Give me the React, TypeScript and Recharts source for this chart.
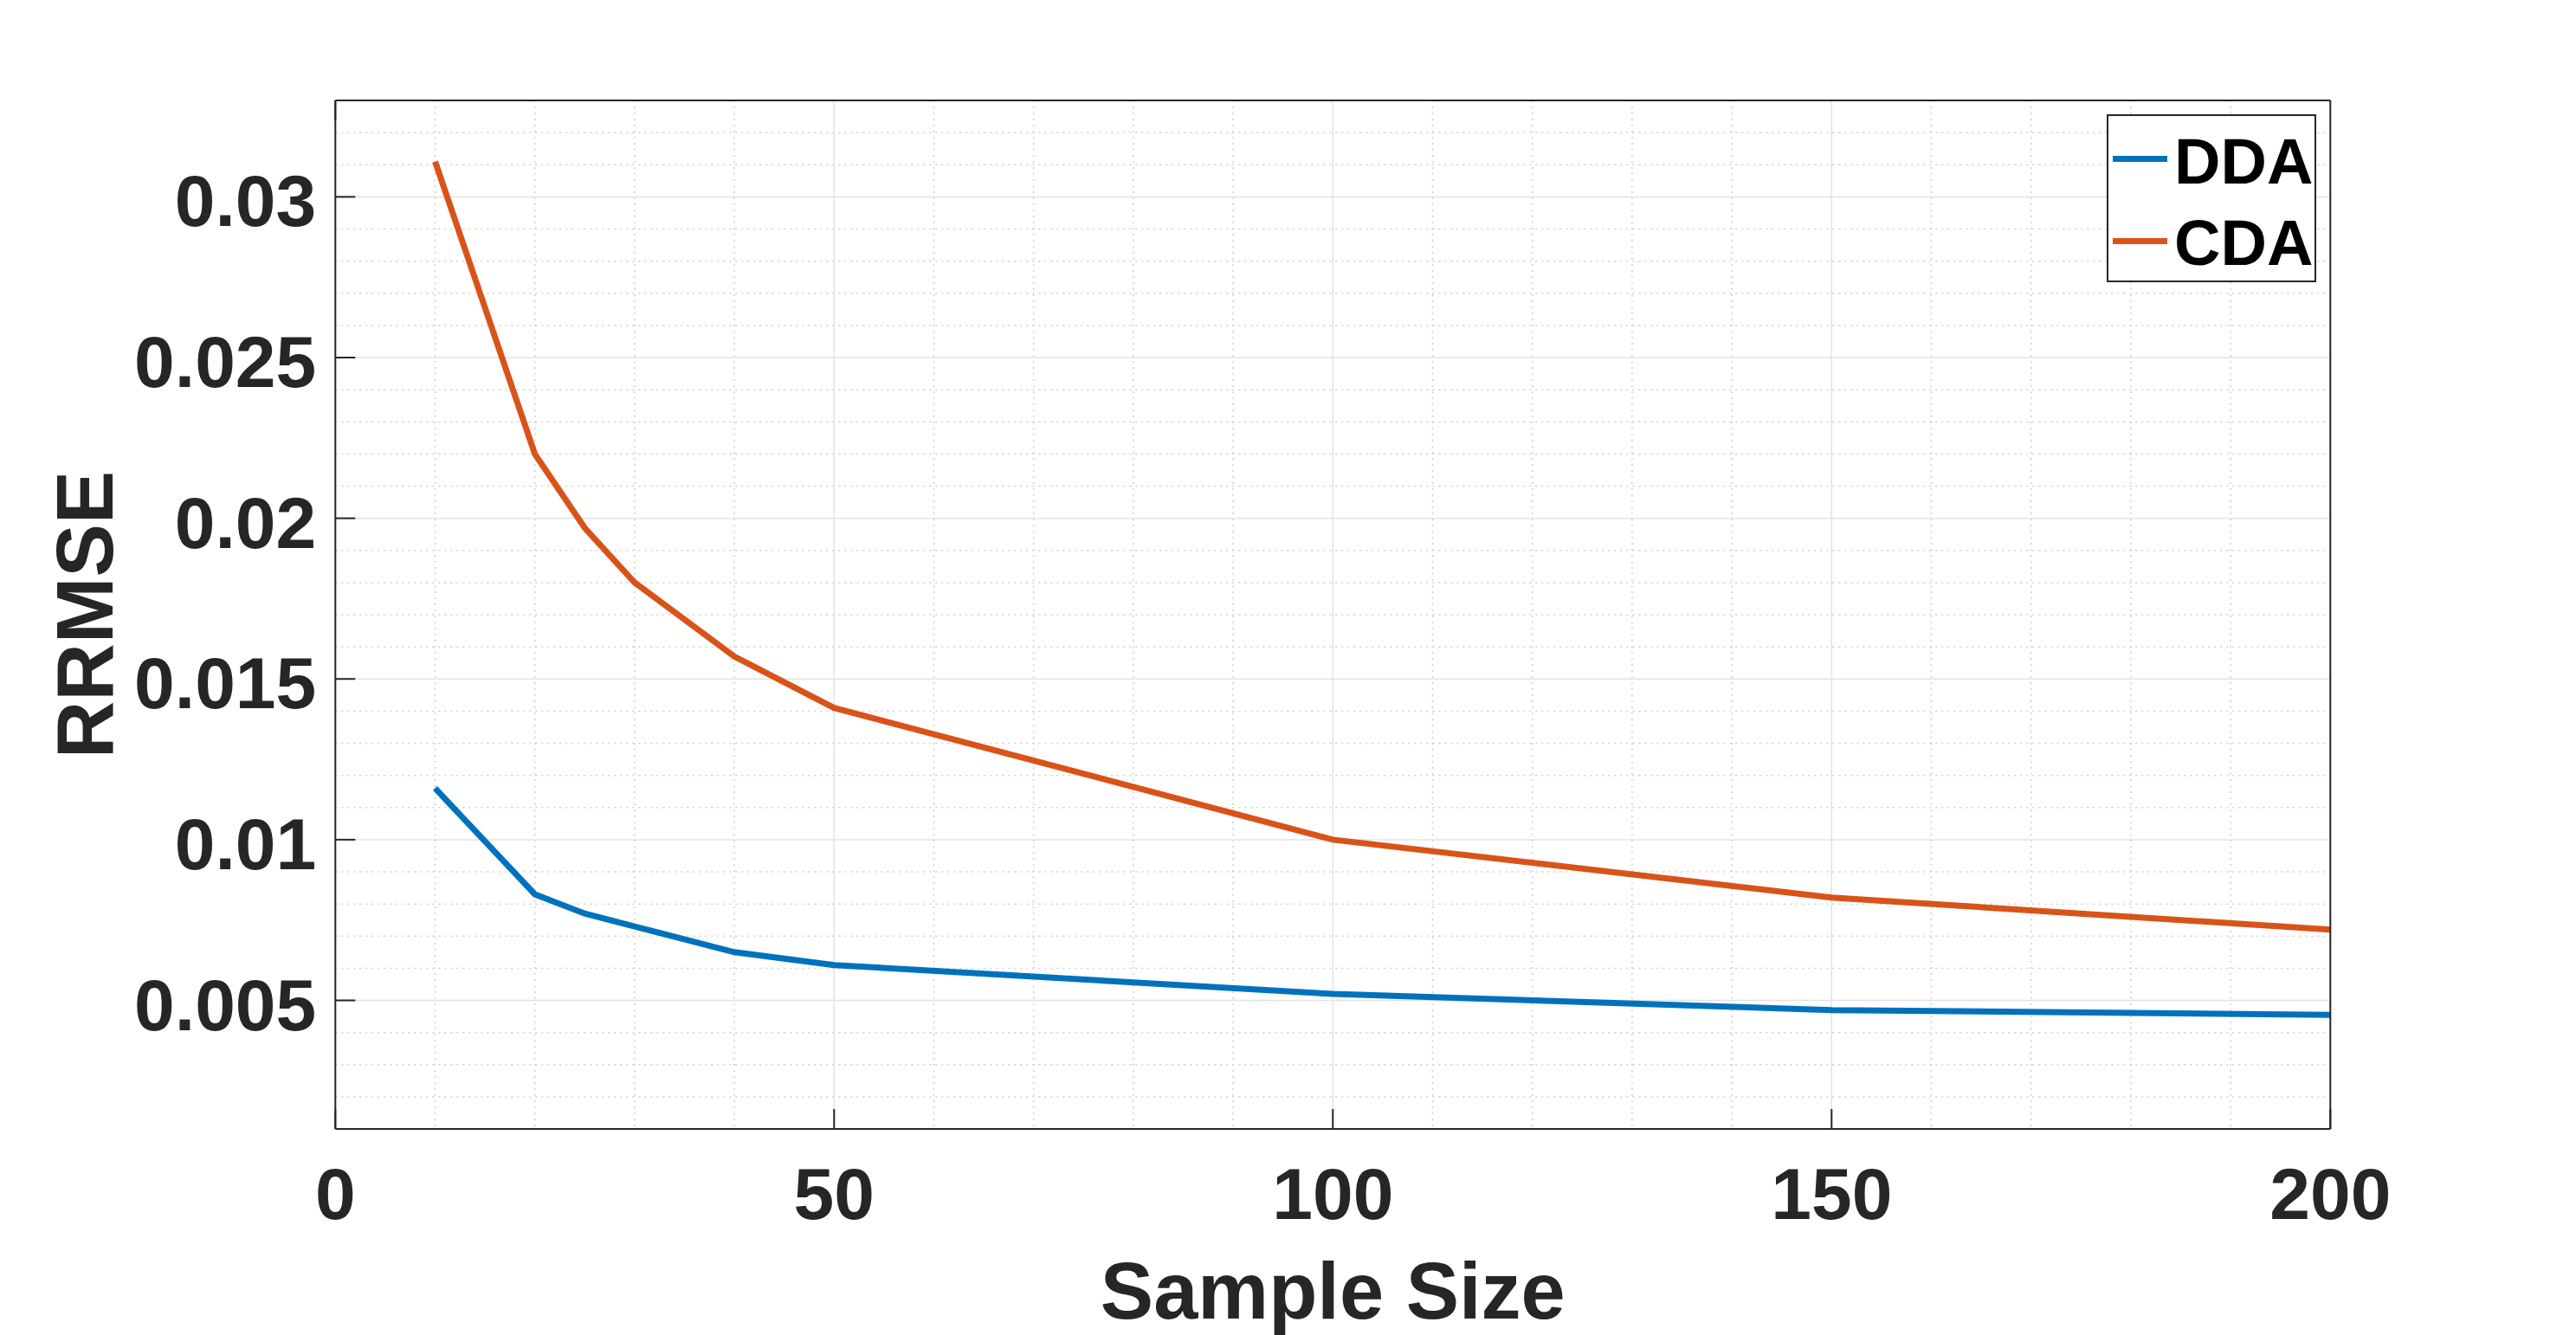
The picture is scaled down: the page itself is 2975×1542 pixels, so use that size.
import React from 'react';
import {
  LineChart,
  Line,
  XAxis,
  YAxis,
  CartesianGrid,
  Legend,
} from 'recharts';

// sample sizes and RRMSE values
const sampleSizes = [10, 20, 25, 30, 40, 50, 100, 150, 200];
const ddaValues = [0.0116, 0.0083, 0.0077, 0.0073, 0.0065, 0.0061, 0.0052, 0.0047, 0.00455];
const cdaValues = [0.0311, 0.022, 0.0197, 0.018, 0.0157, 0.0141, 0.01, 0.0082, 0.0072];
const seriesOrder = ['DDA', 'CDA'];

const xTicks = [0, 50, 100, 150, 200];
const yTicks = [0.005, 0.01, 0.015, 0.02, 0.025, 0.03];
const xMinor = [10, 20, 30, 40, 60, 70, 80, 90, 110, 120, 130, 140, 160, 170, 180, 190];
const yMinor = [
  0.001, 0.002, 0.003, 0.004, 0.006, 0.007, 0.008, 0.009, 0.011, 0.012, 0.013, 0.014,
  0.016, 0.017, 0.018, 0.019, 0.021, 0.022, 0.023, 0.024, 0.026, 0.027, 0.028, 0.029,
  0.031, 0.032, 0.033,
];

const data = sampleSizes.map((x, i) => ({ x, DDA: ddaValues[i], CDA: cdaValues[i] }));

const FONT = "'Liberation Sans', Arial, Helvetica, sans-serif";
const INK = '#262626';
const TICK_LEN = 23;

const BottomTick = (props: any) => {
  const { x, y, payload } = props;
  return (
    <g>
      <line x1={x} y1={y} x2={x} y2={y - TICK_LEN} stroke={INK} strokeWidth={2} />
      <text x={x} y={y + 104} textAnchor="middle" fill={INK} fontFamily={FONT} fontWeight="bold" fontSize={84}>
        {payload.value}
      </text>
    </g>
  );
};

const TopTick = (props: any) => {
  const { x, y } = props;
  return <line x1={x} y1={y} x2={x} y2={y + TICK_LEN} stroke={INK} strokeWidth={2} />;
};

const LeftTick = (props: any) => {
  const { x, y, payload } = props;
  return (
    <g>
      <line x1={x} y1={y} x2={x + TICK_LEN} y2={y} stroke={INK} strokeWidth={2} />
      <text x={x - 22} y={y + 34} textAnchor="end" fill={INK} fontFamily={FONT} fontWeight="bold" fontSize={84}>
        {String(payload.value)}
      </text>
    </g>
  );
};

const RightTick = (props: any) => {
  const { x, y } = props;
  return <line x1={x} y1={y} x2={x - TICK_LEN} y2={y} stroke={INK} strokeWidth={2} />;
};

const renderLegend = (props: any) => {
  const items = (props.payload || [])
    .filter((item: any) => seriesOrder.includes(item.value))
    .sort((a: any, b: any) => seriesOrder.indexOf(a.value) - seriesOrder.indexOf(b.value));
  return (
    <div
      style={{
        position: 'relative',
        width: 242,
        height: 194,
        boxSizing: 'border-box',
        border: `2px solid ${INK}`,
        background: '#fff',
      }}
    >
      {items.map((item: any, i: number) => (
        <React.Fragment key={item.value}>
          <span
            style={{
              position: 'absolute',
              left: 5,
              top: 46 + i * 95,
              width: 63,
              height: 7,
              background: item.color,
            }}
          />
          <span
            style={{
              position: 'absolute',
              left: 76,
              top: 16 + i * 94,
              fontFamily: FONT,
              fontWeight: 'bold',
              fontSize: 74,
              lineHeight: 1,
              color: '#000',
              whiteSpace: 'nowrap',
            }}
          >
            {item.value}
          </span>
        </React.Fragment>
      ))}
    </div>
  );
};

export default function App() {
  return (
    <div style={{ position: 'absolute', left: 0, top: 0, background: '#fff' }}>
      <LineChart
        width={2975}
        height={1542}
        data={data}
        margin={{ top: 115, right: 282.7, bottom: 0, left: 0 }}
      >
        <CartesianGrid
          horizontalValues={yMinor}
          verticalValues={xMinor}
          stroke="#cfcfcf"
          strokeWidth={1.5}
          strokeDasharray="2 5"
        />
        <CartesianGrid
          horizontalValues={yTicks}
          verticalValues={xTicks}
          stroke="#e3e3e3"
          strokeWidth={1.5}
        />
        <XAxis
          dataKey="x"
          type="number"
          domain={[0, 200]}
          ticks={xTicks}
          interval={0}
          height={238}
          tickSize={0}
          tickMargin={0}
          tickLine={false}
          axisLine={{ stroke: INK, strokeWidth: 2 }}
          tick={<BottomTick />}
          label={{
            content: (p: any) => {
              const vb = p.viewBox;
              return (
                <text
                  x={vb.x + vb.width / 2}
                  y={1523}
                  textAnchor="middle"
                  fill={INK}
                  fontFamily={FONT}
                  fontWeight="bold"
                  fontSize={92}
                >
                  Sample Size
                </text>
              );
            },
          }}
        />
        {/* mirrored top axis: a zero-size axis is skipped, so give it 1px */}
        <XAxis
          xAxisId="top"
          orientation="top"
          type="number"
          domain={[0, 200]}
          ticks={xTicks}
          interval={0}
          height={1}
          tickSize={0}
          tickMargin={0}
          tickLine={false}
          axisLine={{ stroke: INK, strokeWidth: 2 }}
          tick={<TopTick />}
        />
        <YAxis
          type="number"
          domain={[0.001, 0.033]}
          ticks={yTicks}
          interval={0}
          width={387.3}
          tickSize={0}
          tickMargin={0}
          tickLine={false}
          axisLine={{ stroke: INK, strokeWidth: 2 }}
          tick={<LeftTick />}
          label={{
            content: (p: any) => {
              const vb = p.viewBox;
              const cy = vb.y + vb.height / 2;
              return (
                <text
                  x={130}
                  y={cy}
                  transform={`rotate(-90, 130, ${cy})`}
                  textAnchor="middle"
                  fill={INK}
                  fontFamily={FONT}
                  fontWeight="bold"
                  fontSize={92}
                >
                  RRMSE
                </text>
              );
            },
          }}
        />
        <YAxis
          yAxisId="right"
          orientation="right"
          type="number"
          domain={[0.001, 0.033]}
          ticks={yTicks}
          interval={0}
          width={1}
          tickSize={0}
          tickMargin={0}
          tickLine={false}
          axisLine={{ stroke: INK, strokeWidth: 2 }}
          tick={<RightTick />}
        />
        <Line
          dataKey="DDA"
          name="DDA"
          stroke="#0072BD"
          strokeWidth={7}
          dot={false}
          type="linear"
          isAnimationActive={false}
        />
        <Line
          dataKey="CDA"
          name="CDA"
          stroke="#D95319"
          strokeWidth={7}
          dot={false}
          type="linear"
          isAnimationActive={false}
        />
        <Legend
          layout="horizontal"
          align="center"
          verticalAlign="middle"
          content={renderLegend}
          wrapperStyle={{ left: 2433, top: 132, width: 242, height: 194 }}
        />
      </LineChart>
    </div>
  );
}
